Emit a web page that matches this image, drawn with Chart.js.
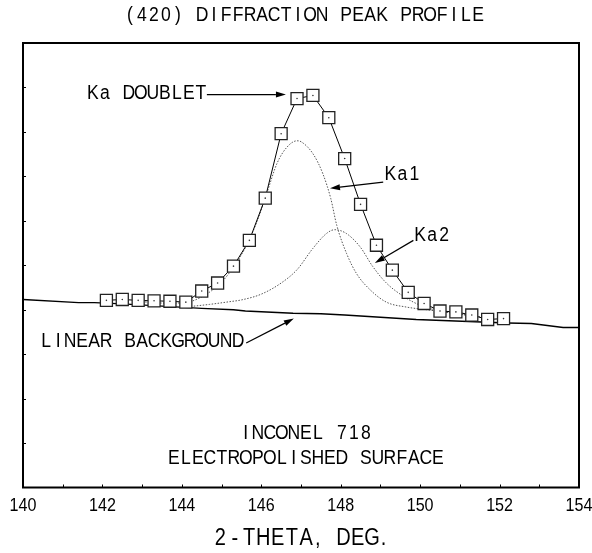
<!DOCTYPE html>
<html>
<head>
<meta charset="utf-8">
<script src="https://cdn.jsdelivr.net/npm/chart.js@4.4.1/dist/chart.umd.min.js"></script>
<style>
    html, body { margin: 0; padding: 0; background: #fff; }
    .chart-box { width: 592px; height: 553px; }
</style>
</head>
<body>
<div class="chart-box"><canvas id="chart1"></canvas></div>
<script>
// Data (2-theta in deg, intensity in axis units 0..10)
const doubletX = [142.1, 142.5, 142.9, 143.3, 143.7, 144.1, 144.5, 144.9, 145.3, 145.7, 146.1, 146.5, 146.9,
    147.3, 147.7, 148.1, 148.5, 148.9, 149.3, 149.7, 150.1, 150.5, 150.9, 151.3, 151.7, 152.1];
const doubletY = [4.21, 4.23, 4.21, 4.20, 4.19, 4.17, 4.42, 4.60, 4.98, 5.56, 6.51, 7.96, 8.75,
    8.82, 8.32, 7.40, 6.37, 5.45, 4.89, 4.39, 4.14, 3.97, 3.95, 3.88, 3.78, 3.80];

const ka1X = [143.0, 143.5, 144.0, 144.5, 145.0, 145.3, 145.6, 145.9, 146.15, 146.4, 146.65, 146.9, 147.0,
    147.3, 147.55, 147.75, 147.9, 148.15, 148.4, 148.75, 149.15, 149.65, 150.25, 151.0, 151.5];
const ka1Y = [4.18, 4.15, 4.15, 4.29, 4.62, 4.96, 5.40, 6.00, 6.65, 7.30, 7.66, 7.80, 7.78,
    7.51, 7.06, 6.50, 5.90, 5.26, 4.81, 4.44, 4.17, 4.06, 3.99, 3.90, 3.84];

const ka2X = [144.3, 144.7, 145.2, 145.5, 146.0, 146.5, 146.9, 147.3, 147.65, 147.85, 148.15, 148.5, 148.8,
    149.15, 149.6, 150.0, 150.4, 151.0, 151.5];
const ka2Y = [4.08, 4.12, 4.18, 4.22, 4.35, 4.60, 4.90, 5.38, 5.72, 5.80, 5.71, 5.40, 4.98,
    4.60, 4.29, 4.10, 3.99, 3.90, 3.84];

const bgX = [140.0, 141.4, 141.8, 142.5, 143.5, 144.5, 145.3, 145.6, 146.8, 147.5, 148.1, 149.9, 152.2, 152.8, 153.6, 154.0];
const bgY = [4.23, 4.16, 4.16, 4.13, 4.08, 4.03, 4.00, 3.97, 3.92, 3.91, 3.88, 3.78, 3.70, 3.69, 3.60, 3.60];

const xTickLabels = [140, 142, 144, 146, 148, 150, 152, 154];

const toPoints = (xs, ys) => xs.map((x, i) => ({ x: x, y: ys[i] }));

// Plotter style text: fixed pitch cells, condensed glyphs
function drawMono(ctx, text, x, y, align, size = 19.5, pitch = 12, sx = 0.9) {
    const cellW = ch => (ch === "," || ch === ".") ? 0.6 : 1;
    let total = 0;
    for (const ch of text) total += cellW(ch) * pitch;
    let pos = align === "center" ? x - total / 2 : x;
    ctx.save();
    ctx.font = size + 'px "Liberation Sans"';
    ctx.textAlign = "center";
    ctx.textBaseline = "middle";
    ctx.fillStyle = "#000";
    for (const ch of text) {
        const w = cellW(ch) * pitch;
        ctx.save();
        ctx.translate(pos + w / 2, y);
        ctx.scale(sx, 1);
        ctx.fillText(ch, 0, 0);
        ctx.restore();
        pos += w;
    }
    ctx.restore();
}

function drawArrow(ctx, x1, y1, x2, y2) {
    const ang = Math.atan2(y2 - y1, x2 - x1);
    const len = 10, half = 3;
    const c = Math.cos(ang), s = Math.sin(ang);
    ctx.save();
    ctx.strokeStyle = "#000";
    ctx.fillStyle = "#000";
    ctx.lineWidth = 1.2;
    ctx.beginPath();
    ctx.moveTo(x1, y1);
    ctx.lineTo(x2 - c * len, y2 - s * len);
    ctx.stroke();
    ctx.beginPath();
    ctx.moveTo(x2, y2);
    ctx.lineTo(x2 - c * len - s * half, y2 - s * len + c * half);
    ctx.lineTo(x2 - c * len + s * half, y2 - s * len - c * half);
    ctx.closePath();
    ctx.fill();
    ctx.restore();
}

const plotDecor = {
    id: "plotDecor",
    afterDraw(chart) {
        const ctx = chart.ctx;
        const a = chart.chartArea;
        const xs = chart.scales.x, ys = chart.scales.y;
        const px = v => xs.getPixelForValue(v);
        const py = v => ys.getPixelForValue(v);

        // frame
        ctx.save();
        ctx.strokeStyle = "#000";
        ctx.lineWidth = 2;
        ctx.strokeRect(a.left, a.top, a.right - a.left, a.bottom - a.top);

        // inward tick marks
        ctx.lineWidth = 1;
        ctx.beginPath();
        for (let v = 141; v < 154; v++) {
            ctx.moveTo(Math.round(px(v)) + 0.5, a.bottom);
            ctx.lineTo(Math.round(px(v)) + 0.5, a.bottom - 3);
        }
        for (let v = 1; v < 10; v++) {
            ctx.moveTo(a.left, Math.round(py(v)) + 0.5);
            ctx.lineTo(a.left + 3, Math.round(py(v)) + 0.5);
        }
        ctx.stroke();

        // x tick labels
        ctx.font = '18.5px "Liberation Sans"';
        ctx.textAlign = "center";
        ctx.textBaseline = "middle";
        ctx.fillStyle = "#000";
        xTickLabels.forEach(v => {
            ctx.save();
            ctx.translate(px(v), a.bottom + 18);
            ctx.scale(0.87, 1);
            ctx.fillText(String(v), 0, 0);
            ctx.restore();
        });
        ctx.restore();

        // titles
        const mid = (a.left + a.right) / 2;
        drawMono(ctx, "(420) DIFFRACTION PEAK PROFILE", mid + 3, 16, "center");
        drawMono(ctx, "2-THETA, DEG.", mid - 0.5, 538.5, "center", 23, 14.3, 0.87);

        // annotations
        drawMono(ctx, "Ka DOUBLET", px(141.61), py(8.85), "left");
        drawArrow(ctx, px(144.63), py(8.84), px(146.62), py(8.84));

        drawMono(ctx, "Ka1", px(149.10), py(7.05), "left");
        drawArrow(ctx, px(149.07), py(6.87), px(147.73), py(6.73));

        drawMono(ctx, "Ka2", px(149.85), py(5.66), "left");
        drawArrow(ctx, px(149.83), py(5.56), px(148.86), py(5.05));

        drawMono(ctx, "LINEAR BACKGROUND", px(140.43), py(3.28), "left");
        drawArrow(ctx, px(145.62), py(3.25), px(146.82), py(3.80));

        drawMono(ctx, "INCONEL 718", px(147.12), py(1.21), "center");
        drawMono(ctx, "ELECTROPOLISHED SURFACE", px(147.12), py(0.64), "center");
    }
};

const chart1 = document.querySelector("#chart1");
if (chart1) {
    new Chart(chart1, {
        type: "line",
        data: {
            datasets: [
                {
                    label: "centre dots",
                    data: toPoints(doubletX, doubletY),
                    showLine: false,
                    pointStyle: "circle",
                    pointRadius: 0.8,
                    pointBackgroundColor: "#333",
                    pointBorderWidth: 0
                },
                {
                    label: "Ka doublet",
                    data: toPoints(doubletX, doubletY),
                    borderColor: "#000",
                    borderWidth: 1,
                    pointStyle: "rect",
                    pointRadius: 8.5,
                    pointBackgroundColor: "#fff",
                    pointBorderColor: "#222",
                    pointBorderWidth: 1.3
                },
                {
                    label: "Ka1",
                    data: toPoints(ka1X, ka1Y),
                    borderColor: "#555",
                    borderWidth: 1,
                    borderDash: [1.5, 1.5],
                    pointRadius: 0,
                    cubicInterpolationMode: "monotone"
                },
                {
                    label: "Ka2",
                    data: toPoints(ka2X, ka2Y),
                    borderColor: "#555",
                    borderWidth: 1,
                    borderDash: [1.5, 1.5],
                    pointRadius: 0,
                    cubicInterpolationMode: "monotone"
                },
                {
                    label: "Linear background",
                    data: toPoints(bgX, bgY),
                    borderColor: "#000",
                    borderWidth: 1.4,
                    pointRadius: 0
                }
            ]
        },
        options: {
            responsive: true,
            maintainAspectRatio: false,
            animation: false,
            devicePixelRatio: 1,
            layout: {
                padding: { top: 43, left: 23, right: 13, bottom: 65.5 }
            },
            plugins: {
                legend: { display: false },
                tooltip: { enabled: false }
            },
            scales: {
                x: {
                    type: "linear",
                    display: false,
                    min: 140,
                    max: 154
                },
                y: {
                    display: false,
                    min: 0,
                    max: 10
                }
            }
        },
        plugins: [plotDecor]
    });
}
</script>
</body>
</html>
